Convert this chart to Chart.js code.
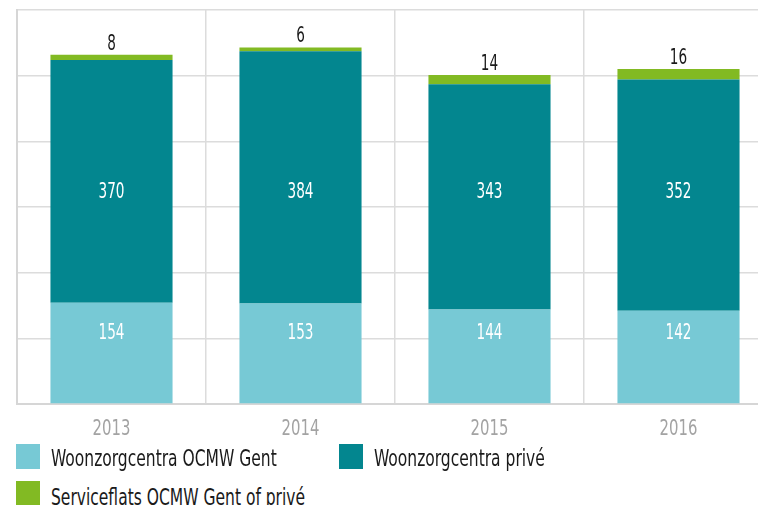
<!DOCTYPE html>
<html>
<head>
<meta charset="utf-8">
<script src="https://cdn.jsdelivr.net/npm/chart.js@4.4.1/dist/chart.umd.min.js"></script>
<style>
    html, body { margin: 0; padding: 0; width: 758px; height: 505px; overflow: hidden; background: #fff; }
    #wrap { position: absolute; left: 0; top: 0; width: 790px; height: 445px; }
    .legend-item { position: absolute; height: 26px; white-space: nowrap;
        font-family: 'DejaVu Sans Condensed', 'DejaVu Sans', sans-serif; font-size: 23px; color: #1a1a1a; }
    .legend-item .box { position: absolute; left: 0; top: 0; width: 24px; height: 25px; }
    .legend-item .txt { position: absolute; left: 35px; top: 0; line-height: 28px;
        transform: scaleX(0.75); transform-origin: left center; }
</style>
</head>
<body>
<div id="wrap"><canvas id="chart1" width="790" height="445"></canvas></div>
<div class="legend-item" style="left:16px; top:444px;"><span class="box" style="background:#77c9d5"></span><span class="txt">Woonzorgcentra OCMW Gent</span></div>
<div class="legend-item" style="left:339px; top:444px;"><span class="box" style="background:#03868f"></span><span class="txt">Woonzorgcentra privé</span></div>
<div class="legend-item" style="left:16px; top:481px;"><span class="box" style="background:#82ba23"></span><span class="txt" style="top:2px">Serviceflats OCMW Gent of privé</span></div>
<script>
const years = ['2013', '2014', '2015', '2016'];
const ocmwGent = [154, 153, 144, 142];
const prive = [370, 384, 343, 352];
const serviceflats = [8, 6, 14, 16];

const FONT = "'DejaVu Sans Condensed', 'DejaVu Sans', sans-serif";

// smalle tekst: horizontaal samendrukken
function narrowText(ctx, text, x, y, sx) {
    ctx.save();
    ctx.translate(x, y);
    ctx.scale(sx, 1);
    ctx.fillText(text, 0, 0);
    ctx.restore();
}

// labels in de balken + jaartallen (eigen plugin, geen datalabels beschikbaar)
const barLabels = {
    id: 'barLabels',
    afterDatasetsDraw(chart, args, opts) {
        const ctx = chart.ctx;
        const yScale = chart.scales.y;
        const xScale = chart.scales.x;
        chart.data.datasets.forEach((ds, i) => {
            const meta = chart.getDatasetMeta(i);
            meta.data.forEach((bar, j) => {
                const v = String(ds.data[j]);
                ctx.save();
                ctx.font = '21px ' + FONT;
                ctx.textAlign = 'center';
                if (i === 2) {
                    ctx.fillStyle = '#1a1a1a';
                    ctx.textBaseline = 'alphabetic';
                    narrowText(ctx, v, bar.x, bar.y - 5, 0.72);
                } else {
                    ctx.fillStyle = '#ffffff';
                    ctx.textBaseline = 'middle';
                    narrowText(ctx, v, bar.x, yScale.getPixelForValue(opts.labelAt[i]) + 1, 0.72);
                }
                ctx.restore();
            });
        });

        ctx.save();
        ctx.font = '22px ' + FONT;
        ctx.fillStyle = '#a3a3a3';
        ctx.textAlign = 'center';
        ctx.textBaseline = 'alphabetic';
        chart.data.labels.forEach((lab, j) => {
            narrowText(ctx, lab, xScale.getPixelForValue(j), chart.chartArea.bottom + 31, 0.75);
        });
        ctx.restore();
    }
};

const Chart1 = new Chart(document.getElementById('chart1'), {
    type: 'bar',
    data: {
        labels: years,
        datasets: [{
            label: 'Woonzorgcentra OCMW Gent',
            data: ocmwGent,
            backgroundColor: '#77c9d5'
        }, {
            label: 'Woonzorgcentra privé',
            data: prive,
            backgroundColor: '#03868f'
        }, {
            label: 'Serviceflats OCMW Gent of privé',
            data: serviceflats,
            backgroundColor: '#82ba23'
        }]
    },
    options: {
        responsive: false,
        animation: false,
        layout: {
            padding: { top: 10, left: 17, right: 17, bottom: 0 }
        },
        datasets: {
            bar: {
                categoryPercentage: 1,
                barPercentage: 0.646,
                borderWidth: 0
            }
        },
        plugins: {
            legend: { display: false },
            tooltip: { enabled: false },
            barLabels: { labelAt: [109, 324] }
        },
        scales: {
            x: {
                stacked: true,
                afterFit: (s) => { s.height = 41; },
                grid: { color: '#dcdcdc', lineWidth: 1.5, drawTicks: false },
                border: { color: '#d6d6d6', width: 2 },
                ticks: { display: false }
            },
            y: {
                stacked: true,
                min: 0,
                max: 600,
                afterFit: (s) => { s.width = 0; },
                grid: { color: '#dcdcdc', lineWidth: 1.5, drawTicks: false },
                border: { color: '#d6d6d6', width: 2 },
                ticks: { display: false, stepSize: 100 }
            }
        }
    },
    plugins: [barLabels]
});
</script>
</body>
</html>
